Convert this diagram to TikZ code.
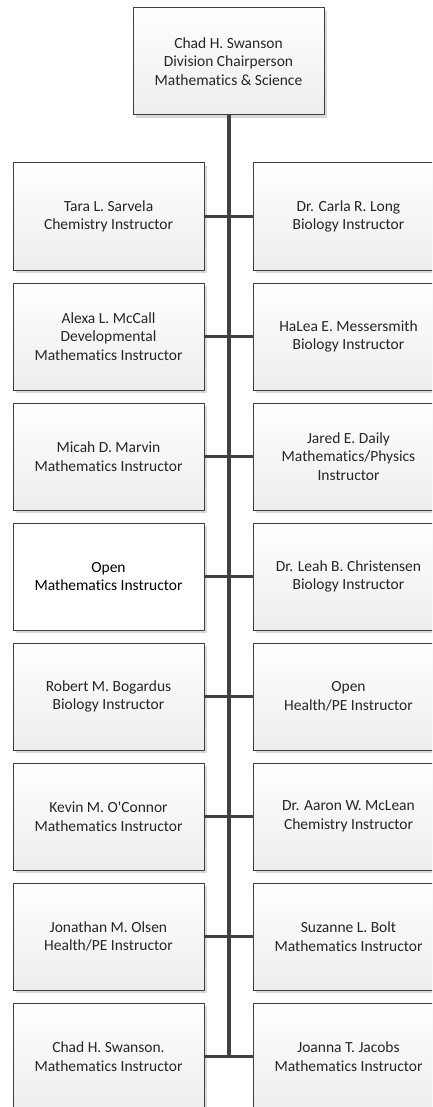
\documentclass[tikz,border=0pt]{standalone}
\usepackage{fontspec}
\setmainfont{Carlito}[Ligatures=NoCommon]
\usetikzlibrary{shadows}

\tikzset{
  staffbox/.style={draw=black!75, line width=1pt, minimum width=191pt, minimum height=107pt,
    inner sep=2pt, align=center, text=black!85, top color=white, bottom color=black!7,
    drop shadow={shadow xshift=3pt, shadow yshift=-3pt, fill=black!15, opacity=1},
    font=\fontsize{15.5}{18.5}\selectfont},
  openbox/.style={staffbox, top color=white, bottom color=white, text=black},
  trunk/.style={draw=black!75, line width=4pt},
  branch/.style={draw=black!75, line width=2.6pt}
}

\begin{document}
\begin{tikzpicture}[x=1pt, y=-1pt]
\useasboundingbox (0,0) rectangle (432,1107);
\clip (0,0) rectangle (432,1107);
\fill[white] (0,0) rectangle (432,1107);

% division chair
\node[staffbox] (chair) at (228.5,61.5) {Chad H. Swanson\\ Division Chairperson\\Mathematics \& Science};

% left column
\node[staffbox] (l1) at (108.5,216.5) {Tara L. Sarvela\\Chemistry Instructor};
\node[staffbox] (l2) at (108.5,336.5) {Alexa L. McCall\\Developmental\\Mathematics Instructor};
\node[staffbox] (l3) at (108.5,456.5) {Micah D. Marvin\\Mathematics Instructor};
\node[openbox]  (l4) at (108.5,576.5) {Open\\Mathematics Instructor};
\node[staffbox] (l5) at (108.5,696.5) {Robert M. Bogardus\\Biology Instructor};
\node[staffbox] (l6) at (108.5,816.5) {Kevin M. O\textquotesingle Connor\\Mathematics Instructor};
\node[staffbox] (l7) at (108.5,936.5) {Jonathan M. Olsen\\Health/PE Instructor};
\node[staffbox] (l8) at (108.5,1056.5) {Chad H. Swanson.\\Mathematics Instructor};

% right column
\node[staffbox] (r1) at (348.5,216.5) {Dr. Carla R. Long\\Biology Instructor};
\node[staffbox] (r2) at (348.5,336.5) {HaLea E. Messersmith\\Biology Instructor};
\node[staffbox] (r3) at (348.5,456.5) {Jared E. Daily\\Mathematics/Physics\\Instructor};
\node[staffbox] (r4) at (348.5,576.5) {Dr. Leah B. Christensen\\Biology Instructor};
\node[staffbox] (r5) at (348.5,696.5) {Open\\Health/PE Instructor};
\node[staffbox] (r6) at (348.5,816.5) {Dr. Aaron W. McLean\\Chemistry Instructor};
\node[staffbox] (r7) at (348.5,936.5) {Suzanne L. Bolt\\Mathematics Instructor};
\node[staffbox] (r8) at (348.5,1056.5) {Joanna T. Jacobs\\Mathematics Instructor};

% connectors
\coordinate (trunkend) at (chair.south |- l8.east);
\draw[trunk] (chair.south) -- (trunkend);
\foreach \i in {1,...,8}{
  \draw[branch] (l\i.east) -- (r\i.west);
}
\end{tikzpicture}
\end{document}
